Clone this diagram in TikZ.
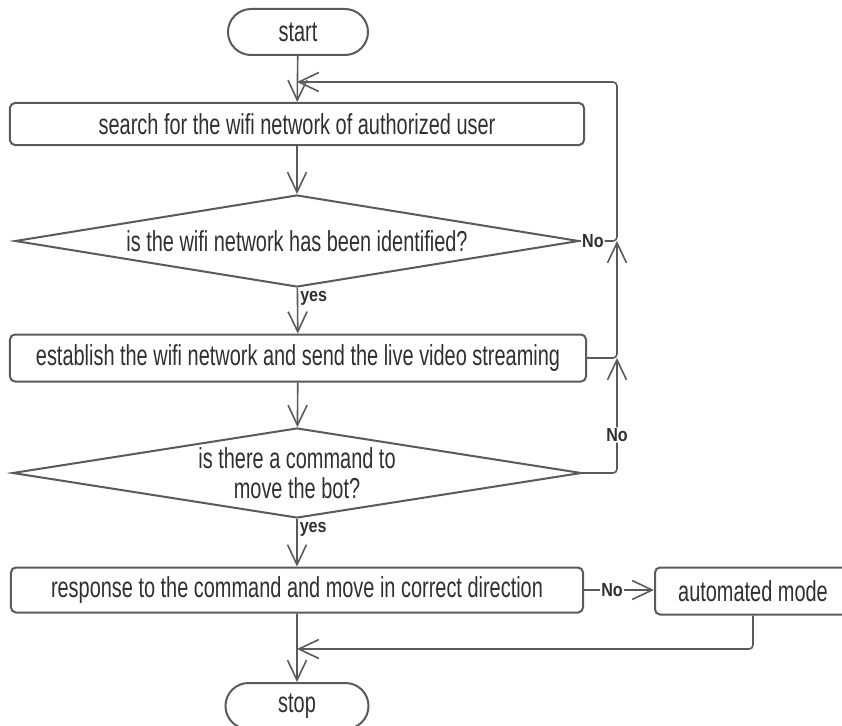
\documentclass[tikz,border=0pt]{standalone}
\usepackage{fontspec}
\setmainfont{Liberation Sans}[FakeStretch=0.69]
\newfontfamily\lblfont{Liberation Sans}[FakeStretch=0.85]
\usetikzlibrary{shapes.geometric,shapes.misc,arrows.meta}
\definecolor{linegray}{HTML}{5A5A5A}
\definecolor{textgray}{HTML}{303030}
\begin{document}
\begin{tikzpicture}[x=1bp, y=-1bp,
    proc/.style={draw=linegray, line width=2bp, rounded corners=5bp, fill=white,
      text=textgray, inner sep=0pt, font=\fontsize{29}{31}\selectfont},
    decide/.style={diamond, aspect=6, draw=linegray, line width=2bp, fill=white,
      text=textgray, inner sep=0pt, align=center, font=\fontsize{29}{30}\selectfont},
    term/.style={rounded rectangle, draw=linegray, line width=2bp, fill=white,
      text=textgray, inner sep=0pt, minimum width=140bp, minimum height=46bp,
      font=\fontsize{29}{31}\selectfont},
    flow/.style={draw=linegray, line width=1.6bp, -{Straight Barb[length=20bp,width=19bp,line width=1.6bp]}},
    yes/.style={right, text=textgray, inner sep=2bp, font=\lblfont\bfseries\fontsize{19}{20}\selectfont},
    no/.style={fill=white, text=textgray, inner sep=1bp, font=\lblfont\bfseries\fontsize{19}{20}\selectfont}
  ]
  \useasboundingbox (0,0) rectangle (842,726);

  % Define the nodes
  \node[term] (start) at (298, 32) {start};
  \node[proc, minimum width=574bp, minimum height=42bp] (search) at (297, 124) {search for the wifi network of authorized user};
  \node[decide, minimum width=564bp, minimum height=92bp] (check1) at (297, 241) {is the wifi network has been identified?};
  \node[proc, minimum width=576bp, minimum height=47bp] (stream) at (298, 358) {establish the wifi network and send the live video streaming};
  \node[decide, minimum width=569bp, minimum height=90bp] (check2) at (297, 473) {is there a command to\\move the bot?};
  \node[proc, minimum width=572bp, minimum height=45bp] (move) at (297, 590) {response to the command and move in correct direction};
  \node[proc, minimum width=196bp, minimum height=47bp] (auto) at (753, 591) {automated mode};
  \node[term, minimum width=143bp] (stop) at (297, 706) {stop};

  \coordinate (j1) at (297, 82);
  \coordinate (r1) at (617, 82);
  \coordinate (r2) at (617, 241);
  \coordinate (r3) at (617, 358);
  \coordinate (r4) at (617, 473);
  \coordinate (j2) at (297, 649);

  % Draw the edges
  \draw[flow] (start) -- (search);
  \draw[flow] (search) -- (check1);
  \draw[flow] (check1) -- node[yes, pos=0.22]{yes} (stream);
  \draw[flow] (stream) -- (check2);
  \draw[flow] (check2) -- node[yes, pos=0.22]{yes} (move);
  \draw[flow] (move) -- node[no, pos=0.4]{No} (move.east -| auto.west);
  \draw[flow] (move) -- (stop);

  \draw[flow, rounded corners=4bp] (check1.east) -- node[no, pos=0.35]{No} (r2) -- (r1) -- (j1);
  \draw[flow, rounded corners=4bp] (stream.east) -- (r3) -- (r2);
  \draw[flow, rounded corners=4bp] (check2.east) -- (r4) -- node[no, pos=0.33]{No} (r3);
  \draw[flow, rounded corners=4bp] (auto.south) |- (j2);
\end{tikzpicture}
\end{document}
